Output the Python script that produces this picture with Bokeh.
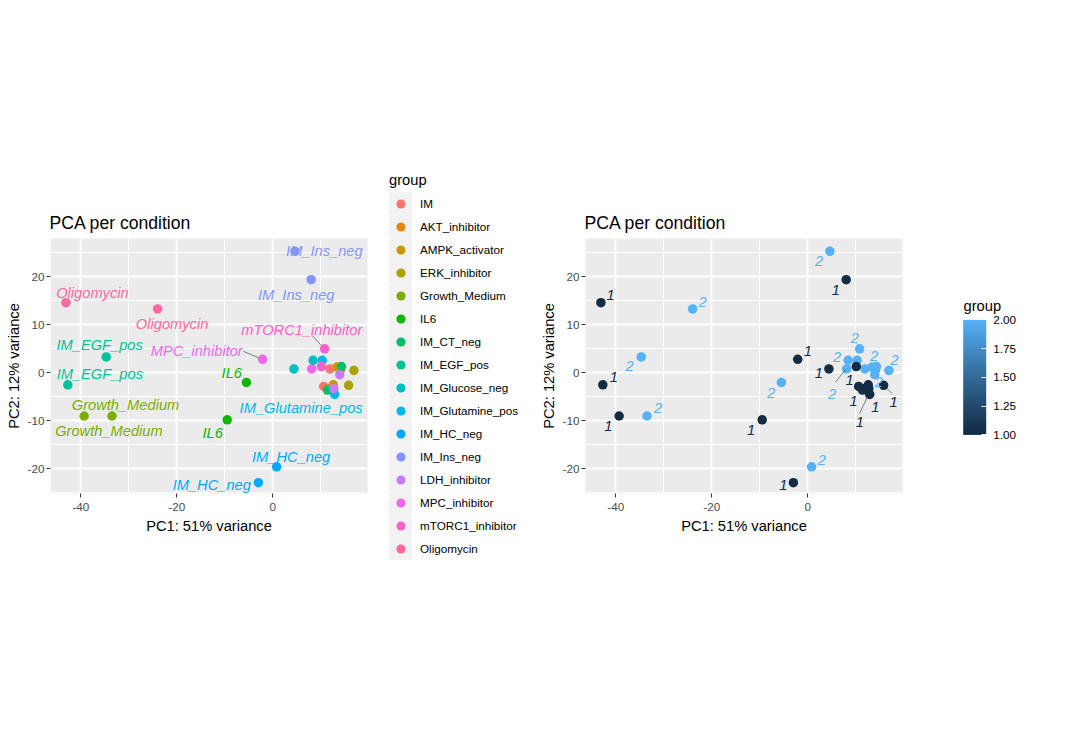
import math
from bokeh.plotting import figure
from bokeh.models import (ColumnDataSource, Range1d, FixedTicker, Legend, LegendItem,
                          ColorBar, LinearColorMapper, PrintfTickFormatter, Label, Spacer)
from bokeh.layouts import row, column
from bokeh.transform import factor_cmap, linear_cmap
from bokeh.embed import file_html
from bokeh.resources import INLINE
from bokeh.core.properties import value

# ---------------- data ----------------
groups = ["IM", "AKT_inhibitor", "AMPK_activator", "ERK_inhibitor", "Growth_Medium", "IL6",
          "IM_CT_neg", "IM_EGF_pos", "IM_Glucose_neg", "IM_Glutamine_pos", "IM_HC_neg",
          "IM_Ins_neg", "LDH_inhibitor", "MPC_inhibitor", "mTORC1_inhibitor", "Oligomycin"]

sample_group = [g for g in groups for _ in range(2)]
sample_rep = [1, 2] * len(groups)
pc1 = [10.6, 11.9, 11.7, 14.1, 12.6, 13.4, 15.8, 16.9,
       -39.3, -33.5, -9.5, -5.5, 11.4, 14.3, -42.7, -34.7,
       4.4, 8.4, 12.9, 10.3, -3.0, 0.8, 8.0, 4.6,
       12.7, 13.95, -2.1, 8.1, 10.1, 10.8, -43.1, -24.0]
pc2 = [-2.85, 0.8, -3.3, 0.6, -2.5, 1.2, -2.6, 0.5,
       -9.0, -9.0, -9.8, -2.0, -3.6, 1.3, -2.5, 3.3,
       0.8, 2.6, -4.5, 2.6, -22.9, -19.6, 19.4, 25.3,
       -3.3, -0.4, 2.8, 0.8, 1.3, 5.0, 14.6, 13.3]

x_ticks = [-40, -20, 0]
x_minor = [-30, -10, 10]
y_ticks = [-20, -10, 0, 10, 20]
y_minor = [-25, -15, -5, 5, 15, 25]
cbar_ticks = [1.0, 1.25, 1.5, 1.75, 2.0]

title_text = "PCA per condition"
x_label = "PC1: 51% variance"
y_label = "PC2: 12% variance"
legend_title = "group"

# label placement (sample index, dx px, dy px  -- dy positive = down)
left_labels = [(30, 26.5, -10), (31, 14.5, 15), (15, -6.6, -12.3), (14, 32, -10.6),
               (9, 13.5, -10.6), (8, 24.8, 14.7), (11, -14.6, -9.3), (10, -14.6, 13),
               (26, -66, -8.7), (29, -22.8, -19), (23, 29.5, 0), (22, -15, 15.4),
               (21, 14.5, -10.3), (20, -46.6, 2), (18, -33.6, 14)]
left_segs = [(26, -19.4, -8, -4, -1.5), (29, -12.6, -13.3, -3, -3)]
right_labels = [(30, 9.7, -8), (31, 10, -6.7), (15, -11.7, 8.7), (14, 11, -7.7),
                (8, -10.7, 10.3), (9, 11, -7.7), (11, -10.3, 10.3), (10, -11, 10),
                (26, 10, -8.3), (23, -10.7, 9.7), (22, -10.3, 10), (21, 10.3, -7),
                (20, -10, 2.3), (16, -10, 4.3), (29, -4.7, -11), (17, -11, -3),
                (5, 2, -11.5), (7, 5.7, -10.7), (28, -6.8, 13.2), (27, -14.5, 25),
                (25, 4, 7.5), (0, -5, 15), (4, 7, 22), (18, -10, 28), (6, 10, 17)]
right_segs = [(27, -11.2, 13.2, -1.2, 0.8), (18, -10.2, 19.4, -1, -0.6), (6, 8.6, 8.5, 1.9, 1.9)]

# ---------------- colours ----------------
M_INV = [(3.2404542, -1.5371385, -0.4985314),
         (-0.9692660, 1.8760108, 0.0415560),
         (0.0556434, -0.2040259, 1.0572252)]
WX, WY, WZ = 0.95047, 1.0, 1.08883


def xyz_to_hex(X, Y, Z):
    out = []
    for r in M_INV:
        c = r[0] * X + r[1] * Y + r[2] * Z
        c = 12.92 * c if c <= 0.0031308 else 1.055 * (max(c, 0) ** (1 / 2.4)) - 0.055
        out.append(int(round(min(max(c, 0), 1) * 255)))
    return "#%02X%02X%02X" % tuple(out)


def hcl_hex(h, c=100.0, l=65.0):
    hr = math.radians(h)
    u, v = c * math.cos(hr), c * math.sin(hr)
    Xn, Yn, Zn = WX * 100, WY * 100, WZ * 100
    un = 4 * Xn / (Xn + 15 * Yn + 3 * Zn)
    vn = 9 * Yn / (Xn + 15 * Yn + 3 * Zn)
    Y = Yn * ((l + 16) / 116) ** 3
    up = u / (13 * l) + un
    vp = v / (13 * l) + vn
    X = Y * 9 * up / (4 * vp)
    Z = Y * (12 - 3 * up - 20 * vp) / (4 * vp)
    return xyz_to_hex(X / 100, Y / 100, Z / 100)


def hex_to_lab(hx):
    rgb = [int(hx[i:i + 2], 16) / 255 for i in (1, 3, 5)]
    lin = [c / 12.92 if c <= 0.04045 else ((c + 0.055) / 1.055) ** 2.4 for c in rgb]
    X = 0.4124564 * lin[0] + 0.3575761 * lin[1] + 0.1804375 * lin[2]
    Y = 0.2126729 * lin[0] + 0.7151522 * lin[1] + 0.0721750 * lin[2]
    Z = 0.0193339 * lin[0] + 0.1191920 * lin[1] + 0.9503041 * lin[2]
    f = lambda t: t ** (1 / 3) if t > (6 / 29) ** 3 else t / (3 * (6 / 29) ** 2) + 4 / 29
    fx, fy, fz = f(X / WX), f(Y / WY), f(Z / WZ)
    return 116 * fy - 16, 500 * (fx - fy), 200 * (fy - fz)


def lab_to_hex(L, a, b):
    fy = (L + 16) / 116
    fx, fz = fy + a / 500, fy - b / 200
    fi = lambda t: t ** 3 if t > 6 / 29 else 3 * (6 / 29) ** 2 * (t - 4 / 29)
    return xyz_to_hex(WX * fi(fx), WY * fi(fy), WZ * fi(fz))


n = len(groups)
group_colors = [hcl_hex(15 + 360 * i / n) for i in range(n)]
lo, hi = hex_to_lab("#132B43"), hex_to_lab("#56B1F7")
grad = [lab_to_hex(*[lo[k] + (hi[k] - lo[k]) * t / 255 for k in range(3)]) for t in range(256)]

FONT = "Liberation Sans"
XR = (-46.31, 19.73)
YR = (-25.15, 27.98)
FW, FH = 317, 255
H = 730
TOP = 238
BOT = H - TOP - FH


def panel(width, left_border, right_border):
    p = figure(width=width, height=H, x_range=Range1d(*XR), y_range=Range1d(*YR),
               min_border_left=left_border, min_border_right=right_border,
               min_border_top=TOP, min_border_bottom=BOT,
               toolbar_location=None, output_backend="svg", title=title_text)
    p.background_fill_color = "#EBEBEB"
    p.border_fill_color = "white"
    p.outline_line_color = None
    p.title.text_font = FONT
    p.title.text_font_size = "17.6px"
    p.title.text_font_style = "normal"
    p.title.text_color = "black"
    p.title.standoff = 11
    p.title.offset = -1
    p.xaxis.ticker = FixedTicker(ticks=x_ticks, minor_ticks=x_minor)
    p.yaxis.ticker = FixedTicker(ticks=y_ticks, minor_ticks=y_minor)
    p.xaxis.axis_label = x_label
    p.yaxis.axis_label = y_label
    for ax in (p.xaxis[0], p.yaxis[0]):
        ax.formatter = PrintfTickFormatter(format="%d")
        ax.axis_line_color = None
        ax.major_tick_line_color = "#333333"
        ax.major_tick_out = 4
        ax.major_tick_in = 0
        ax.minor_tick_line_color = None
        ax.major_label_text_font = FONT
        ax.major_label_text_font_size = "11.7px"
        ax.major_label_text_color = "#4D4D4D"
        ax.axis_label_text_font = FONT
        ax.axis_label_text_font_size = "14.7px"
        ax.axis_label_text_font_style = "normal"
        ax.axis_label_text_color = "black"
    p.xaxis.major_label_standoff = 5
    p.yaxis.major_label_standoff = 2
    p.xaxis.axis_label_standoff = 4
    p.yaxis.axis_label_standoff = 3
    p.yaxis.axis_label_text_line_height = 1.0
    for g in (p.xgrid[0], p.ygrid[0]):
        g.grid_line_color = "white"
        g.grid_line_width = 1.9
        g.minor_grid_line_color = "white"
        g.minor_grid_line_width = 1
    return p


src = ColumnDataSource(dict(x=pc1, y=pc2, group=sample_group, rep=sample_rep))
gmap = factor_cmap("group", palette=group_colors, factors=groups)
rmap = linear_cmap("rep", palette=grad, low=1, high=2)

ux = FW / (XR[1] - XR[0])
uy = FH / (YR[1] - YR[0])


def label_source(spec, text_of):
    return ColumnDataSource(dict(
        x=[pc1[i] for i, _, _ in spec], y=[pc2[i] for i, _, _ in spec],
        label=[text_of(i) for i, _, _ in spec],
        group=[sample_group[i] for i, _, _ in spec],
        rep=[sample_rep[i] for i, _, _ in spec],
        dx=[d for _, d, _ in spec], dy=[d for _, _, d in spec]))


def seg_source(spec):
    return ColumnDataSource(dict(
        x0=[pc1[i] + a / ux for i, a, b, c, d in spec], y0=[pc2[i] - b / uy for i, a, b, c, d in spec],
        x1=[pc1[i] + c / ux for i, a, b, c, d in spec], y1=[pc2[i] - d / uy for i, a, b, c, d in spec]))


# ---------------- left panel ----------------
left = panel(380, 50, 13)
left.scatter("x", "y", source=src, size=9.5, fill_color=gmap, line_color=None)
left.segment("x0", "y0", "x1", "y1", source=seg_source(left_segs), line_color="#333333", line_width=0.6)
left.text("x", "y", text="label", source=label_source(left_labels, lambda i: sample_group[i]),
          x_offset="dx", y_offset="dy", text_color=gmap, text_font=value(FONT),
          text_font_style="italic", text_font_size="14.67px", text_align="center", text_baseline="middle")

# ---------------- legend (own canvas) ----------------
LGW = 155
LGH = H - 4
lg = figure(width=LGW, height=LGH, x_range=Range1d(0, LGW), y_range=Range1d(0, LGH),
            min_border=0, x_axis_type=None, y_axis_type=None,
            toolbar_location=None, output_backend="svg")
lg.grid.visible = False
lg.outline_line_color = None
lg.background_fill_color = "white"
lg.border_fill_color = "white"
key_r = lg.quad(left="x", right="x", bottom="y", top="y", source=src, fill_color="#F2F2F2",
                line_color="#F2F2F2", line_width=6, visible=False)
dot_r = lg.scatter("x", "y", source=src, size=9, fill_color=gmap, line_color=None, visible=False)
items = [LegendItem(label=g, renderers=[key_r, dot_r], index=sample_group.index(g)) for g in groups]
legend = Legend(items=items, location=(9, LGH + 2 - 560), padding=0, margin=0, spacing=0,
                glyph_width=23, glyph_height=23, label_height=23, label_standoff=8,
                label_text_font=FONT, label_text_font_size="11.7px", label_text_color="black",
                title=legend_title, title_text_font=FONT, title_text_font_size="14.7px",
                title_text_font_style="normal", title_text_color="black", title_standoff=4,
                border_line_color=None, background_fill_alpha=0, click_policy="none")
lg.add_layout(legend)
lg_col = column(Spacer(width=LGW, height=2), lg)

# ---------------- right panel ----------------
right = panel(395, 50, 28)
right.scatter("x", "y", source=src, size=9.5, fill_color=rmap, line_color=None)
right.segment("x0", "y0", "x1", "y1", source=seg_source(right_segs), line_color="#333333", line_width=0.6)
right.text("x", "y", text="label", source=label_source(right_labels, lambda i: str(sample_rep[i])),
           x_offset="dx", y_offset="dy", text_color=rmap, text_font=value(FONT),
           text_font_style="italic", text_font_size="14.67px", text_align="center", text_baseline="middle")

# ---------------- colour bar ----------------
cbf = figure(width=120, height=H, x_range=Range1d(0, 120), y_range=Range1d(0, FH),
             min_border_left=0, min_border_right=0, min_border_top=TOP, min_border_bottom=BOT,
             x_axis_type=None, y_axis_type=None, toolbar_location=None, output_backend="svg")
cbf.grid.visible = False
cbf.outline_line_color = None
cbf.background_fill_color = "white"
cbf.border_fill_color = "white"
cbf.scatter(x=[], y=[])
mapper = LinearColorMapper(palette=grad, low=1, high=2)
cbar = ColorBar(color_mapper=mapper, location=(32.7, 58.6), width=23, height=115,
                padding=0, margin=0, ticker=FixedTicker(ticks=cbar_ticks),
                formatter=PrintfTickFormatter(format="%.2f"),
                major_label_text_font=FONT, major_label_text_font_size="11.7px",
                major_label_text_color="black", label_standoff=7,
                major_tick_line_color="white", major_tick_in=5, major_tick_out=0,
                minor_tick_line_color=None, bar_line_color=None,
                background_fill_alpha=0, border_line_color=None)
cbf.add_layout(cbar)
cbf.add_layout(Label(x=33, y=180, text=legend_title, text_font=FONT, text_font_size="14.7px",
                     text_color="black", text_baseline="bottom", text_align="left"))

layout = row(left, lg_col, right, cbf)
open("out.html", "w").write(file_html(layout, INLINE))
